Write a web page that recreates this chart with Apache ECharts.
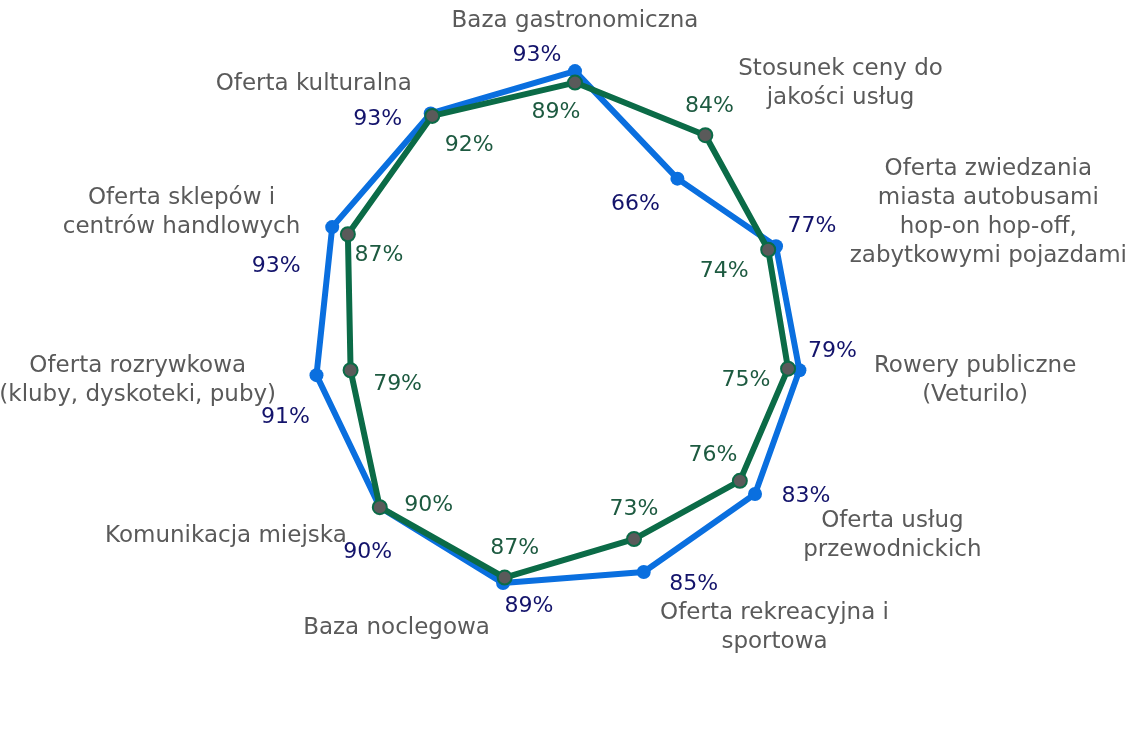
<!DOCTYPE html>
<html>
<head>
<meta charset="utf-8">
<script src="https://cdn.jsdelivr.net/npm/echarts@6/dist/echarts.min.js"></script>
<style>
  html, body { margin: 0; padding: 0; background: #fff; }
  #chart { width: 1136px; height: 755px; }
</style>
</head>
<body>
<div id="chart"></div>
<script>
// categories clockwise from the top
var categories = [
    'Baza gastronomiczna',
    'Stosunek ceny do\njakości usług',
    'Oferta zwiedzania\nmiasta autobusami\nhop-on hop-off,\nzabytkowymi pojazdami',
    'Rowery publiczne\n(Veturilo)',
    'Oferta usług\nprzewodnickich',
    'Oferta rekreacyjna i\nsportowa',
    'Baza noclegowa',
    'Komunikacja miejska',
    'Oferta rozrywkowa\n(kluby, dyskoteki, puby)',
    'Oferta sklepów i\ncentrów handlowych',
    'Oferta kulturalna'
];
var blueValues = [93, 66, 77, 79, 83, 85, 89, 90, 91, 93, 93];
var greenValues = [89, 84, 74, 75, 76, 73, 87, 90, 79, 87, 92];

// where each value label sits relative to its marker (px)
var blueLabelOffsets = [[-38, -16], [-42, 26], [36, -20], [33, -19], [51, 2], [50, 12],
    [26, 23], [-12, 45], [-31, 42], [-56, 39], [-53, 6]];
var greenLabelOffsets = [[-19, 30], [4, -29], [-44, 22], [-42, 12], [-27, -26], [0, -30],
    [10, -29], [49, -2], [47, 14], [31, 21], [37, 29]];

var FONT = 'DejaVu Sans';
var CENTER = [575, 338];
var RADIUS = 287;

function buildSeriesData(values, offsets) {
    var out = values.map(function (v, i) {
        return {
            value: [v, i],
            label: { offset: offsets[i] }
        };
    });
    // close the polygon back at the top
    out.push({ value: [values[0], values.length], symbol: 'none', label: { show: false } });
    return out;
}

// radar draws indicators counter-clockwise, so flip the tail
var indicators = [categories[0]].concat(categories.slice(1).reverse()).map(function (name) {
    return { name: name, min: 0, max: 100 };
});

var chart = echarts.init(document.getElementById('chart'));
chart.setOption({
    backgroundColor: '#fff',
    animation: false,
    radar: {
        center: CENTER,
        radius: RADIUS,
        startAngle: 90,
        indicator: indicators,
        nameGap: 15,
        axisLine: { show: false },
        splitLine: { show: false },
        splitArea: { show: false },
        axisTick: { show: false },
        axisLabel: { show: false },
        axisName: {
            color: '#5a5a5a',
            fontFamily: FONT,
            fontSize: 23,
            lineHeight: 29,
            formatter: function (name) {
                return name.split('\n').map(function (l) { return '{c|' + l + '}'; }).join('\n');
            },
            rich: {
                c: { align: 'center', color: '#5a5a5a', fontFamily: FONT, fontSize: 23, lineHeight: 29 }
            }
        }
    },
    polar: {
        center: CENTER,
        radius: RADIUS
    },
    angleAxis: {
        type: 'value',
        min: 0,
        max: categories.length,
        startAngle: 90,
        clockwise: true,
        show: false,
        axisLine: { show: false },
        axisTick: { show: false },
        axisLabel: { show: false },
        splitLine: { show: false }
    },
    radiusAxis: {
        type: 'value',
        min: 0,
        max: 100,
        show: false,
        axisLine: { show: false },
        axisTick: { show: false },
        axisLabel: { show: false },
        splitLine: { show: false }
    },
    series: [
        {
            name: 'blue',
            type: 'line',
            coordinateSystem: 'polar',
            data: buildSeriesData(blueValues, blueLabelOffsets),
            symbol: 'circle',
            symbolSize: 14,
            lineStyle: { color: '#0a6fdf', width: 6 },
            itemStyle: { color: '#0a6fdf' },
            label: {
                show: true,
                position: 'inside',
                formatter: function (p) { return p.value[0] + '%'; },
                color: '#13136b',
                fontFamily: FONT,
                fontSize: 22
            },
            z: 2
        },
        {
            name: 'green',
            type: 'line',
            coordinateSystem: 'polar',
            data: buildSeriesData(greenValues, greenLabelOffsets),
            symbol: 'circle',
            symbolSize: 14,
            lineStyle: { color: '#0b6b47', width: 6 },
            itemStyle: { color: '#5a5a5a', borderColor: '#0b6b47', borderWidth: 2 },
            label: {
                show: true,
                position: 'inside',
                formatter: function (p) { return p.value[0] + '%'; },
                color: '#1d5a40',
                fontFamily: FONT,
                fontSize: 22
            },
            z: 3
        }
    ]
});
</script>
</body>
</html>
